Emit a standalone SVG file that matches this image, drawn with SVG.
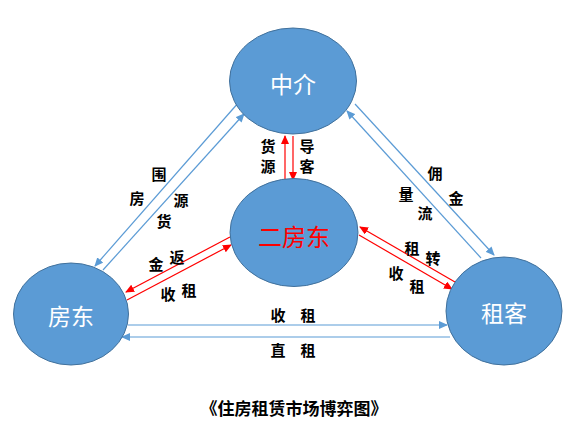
<svg xmlns="http://www.w3.org/2000/svg" width="582" height="435" viewBox="0 0 582 435">
<style>
.node{fill:#5B9BD5;stroke:#41719C;stroke-width:1}
.nt{font-family:"Noto Sans CJK SC","Noto Sans",sans-serif;font-size:23px;fill:#fff;text-anchor:middle;dominant-baseline:central}
.lb{font-family:"Noto Sans CJK SC","Noto Sans",sans-serif;font-size:15px;font-weight:bold;fill:#000;text-anchor:middle;dominant-baseline:central}
.blue{stroke:#5B9BD5;stroke-width:1.2;fill:none;marker-end:url(#ab)}
.red{stroke:#FF0000;stroke-width:1.2;fill:none;marker-end:url(#ar)}
</style>
<defs>
<marker id="ab" markerUnits="userSpaceOnUse" markerWidth="9" markerHeight="8" refX="8" refY="4" orient="auto"><path d="M0,0 L9,4 L0,8 Z" fill="#5B9BD5"/></marker>
<marker id="ar" markerUnits="userSpaceOnUse" markerWidth="9" markerHeight="8" refX="8" refY="4" orient="auto"><path d="M0,0 L9,4 L0,8 Z" fill="#FF0000"/></marker>
</defs>
<rect width="582" height="435" fill="#fff"/>
<g id="connectors">
<line class="blue" x1="239" y1="102" x2="95" y2="266"/>
<line class="blue" x1="103" y1="270" x2="244" y2="114"/>
<line class="blue" x1="481" y1="258" x2="347" y2="111"/>
<line class="blue" x1="355" y1="104" x2="494" y2="255"/>
<line class="blue" x1="128" y1="325" x2="447" y2="325"/>
<line class="blue" x1="450" y1="337" x2="122" y2="337"/>
<line class="red" x1="285" y1="179" x2="285" y2="136"/>
<line class="red" x1="293" y1="136" x2="293" y2="180"/>
<line class="red" x1="230" y1="237" x2="126" y2="292"/>
<line class="red" x1="127" y1="300" x2="231" y2="245"/>
<line class="red" x1="455" y1="282" x2="360" y2="227"/>
<line class="red" x1="359" y1="235" x2="452" y2="289"/>
</g>
<g id="zhongjie"><ellipse class="node" cx="293" cy="81" rx="63.5" ry="53"/><text class="nt" x="293" y="83">中介</text></g>
<g id="erfangdong"><ellipse class="node" cx="294" cy="232.5" rx="64" ry="54"/><text class="nt" x="294" y="235" style="fill:#FF0000;font-size:24px">二房东</text></g>
<g id="fangdong"><ellipse class="node" cx="71" cy="314" rx="57.5" ry="51"/><text class="nt" x="71" y="315">房东</text></g>
<g id="zuke"><ellipse class="node" cx="504" cy="311" rx="58" ry="54"/><text class="nt" x="504" y="312">租客</text></g>
<g id="labels">
<text class="lb" x="159" y="173">围</text>
<text class="lb" x="137" y="197">房</text>
<text class="lb" x="181" y="199">源</text>
<text class="lb" x="164" y="220">货</text>
<text class="lb" x="177" y="256">返</text>
<text class="lb" x="156" y="263">金</text>
<text class="lb" x="168" y="293">收</text>
<text class="lb" x="189" y="289">租</text>
<text class="lb" x="268" y="145">货</text>
<text class="lb" x="268" y="165">源</text>
<text class="lb" x="307" y="145">导</text>
<text class="lb" x="307" y="165">客</text>
<text class="lb" x="435" y="172">佣</text>
<text class="lb" x="456" y="197">金</text>
<text class="lb" x="406" y="193">量</text>
<text class="lb" x="425" y="212">流</text>
<text class="lb" x="412" y="247">租</text>
<text class="lb" x="433" y="257">转</text>
<text class="lb" x="396" y="272">收</text>
<text class="lb" x="417" y="285">租</text>
<text class="lb" x="278" y="314">收</text>
<text class="lb" x="308" y="314">租</text>
<text class="lb" x="278" y="349">直</text>
<text class="lb" x="308" y="349">租</text>
<text class="lb" x="294" y="407" style="font-size:17px">《住房租赁市场博弈图》</text>
</g>
</svg>
